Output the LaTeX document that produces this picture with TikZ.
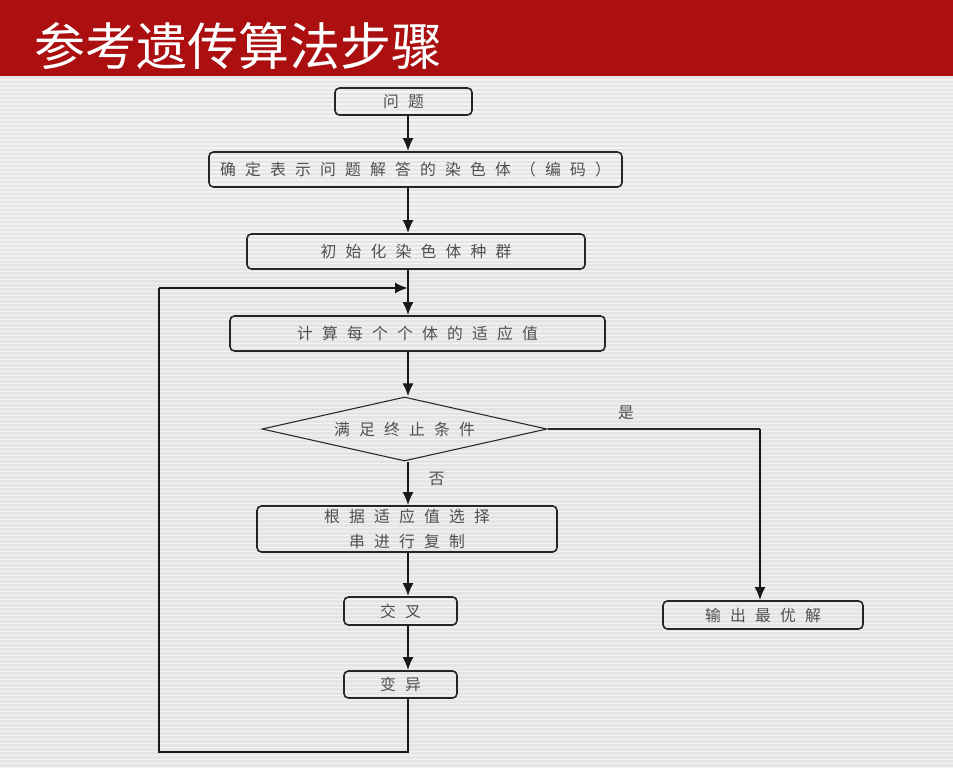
\documentclass[tikz,border=0pt]{standalone}
\usepackage{fontspec}
\setmainfont{Noto Sans CJK SC}
\newfontfamily\cjkbody[LetterSpace=58]{Noto Sans CJK SC}
\usetikzlibrary{shapes.geometric,arrows.meta}
\definecolor{titlered}{HTML}{AB0F10}
\definecolor{slidegray}{HTML}{E5E5E5}
\definecolor{inkgray}{HTML}{505050}
\begin{document}
\begin{tikzpicture}[x=1cm, y=-1cm, font={\cjkbody\fontsize{9}{14}\selectfont}, >={Latex[length=2.6mm,width=2.2mm]},
    stepbox/.style={draw=black!85, line width=0.9pt, rounded corners=2.5pt, text=inkgray, inner sep=0pt},
    testdia/.style={draw=black!85, line width=0.6pt, diamond, shape aspect=4.45, inner sep=0pt, text=inkgray},
    flowln/.style={black!90, line width=1.2pt},
    thinln/.style={black!85, line width=0.6pt}]
  \useasboundingbox (0,0) rectangle (19.06,15.36);
  % slide background
  \fill[slidegray] (0,1.52) rectangle (19.06,15.36);
  \foreach \y in {1.60,1.68,...,15.36} {\draw[white!55!slidegray, line width=0.6pt] (0,\y) -- (19.06,\y);}
  \fill[titlered] (0,0) rectangle (19.06,1.52);
  \node[anchor=west, inner sep=0pt, text=white, font={\fontsize{29}{30}\selectfont}] (title) at (0.68,0.93) {参考遗传算法步骤};
  % flow chart
  \coordinate (trunk) at (8.16,0);
  \node[stepbox, minimum width=2.74cm, minimum height=0.54cm] (wenti) at (8.07,2.03) {问题};
  \node[stepbox, minimum width=8.26cm, minimum height=0.70cm] (queding) at (8.31,3.39) {确定表示问题解答的染色体（编码）};
  \node[stepbox, minimum width=6.76cm, minimum height=0.70cm] (chushi) at (8.32,5.03) {初始化染色体种群};
  \node[stepbox, minimum width=7.50cm, minimum height=0.70cm] (jisuan) at (8.35,6.67) {计算每个个体的适应值};
  \node[testdia, minimum width=5.70cm, minimum height=1.28cm] (manzu) at (8.09,8.58) {满足终止条件};
  \node[stepbox, minimum width=6.00cm, minimum height=0.92cm, align=center] (genju) at (8.14,10.58) {根据适应值选择\\串进行复制};
  \node[stepbox, minimum width=2.26cm, minimum height=0.56cm] (jiaocha) at (8.01,12.22) {交叉};
  \node[stepbox, minimum width=2.26cm, minimum height=0.54cm] (bianyi) at (8.01,13.69) {变异};
  \node[stepbox, minimum width=4.00cm, minimum height=0.56cm] (shuchu) at (15.26,12.30) {输出最优解};
  \coordinate (loopbot) at (3.18,15.04);
  \coordinate (looptop) at (3.18,5.76);
  \coordinate (yesturn) at (15.20,8.58);
  \draw[flowln, ->] (wenti.south -| trunk) -- (queding.north -| trunk);
  \draw[flowln, ->] (queding.south -| trunk) -- (chushi.north -| trunk);
  \draw[flowln, ->] (chushi.south -| trunk) -- (jisuan.north -| trunk);
  \draw[flowln, ->] (jisuan.south -| trunk) -- (manzu.north -| trunk);
  \draw[flowln, ->] (manzu.south -| trunk) -- (genju.north -| trunk) node[pos=0.4, right=0.28cm, text=inkgray] (fou) {否};
  \draw[flowln, ->] (genju.south -| trunk) -- (jiaocha.north -| trunk);
  \draw[flowln, ->] (jiaocha.south -| trunk) -- (bianyi.north -| trunk);
  \draw[flowln] (bianyi.south -| trunk) |- (loopbot) -- (looptop);
  \draw[flowln, ->] (looptop) -- (looptop -| trunk);
  \draw[thinln] (manzu.east) -- (yesturn) node[pos=0.37, above=0.05cm, text=inkgray] (shi) {是};
  \draw[flowln, ->] (yesturn) -- (shuchu.north -| yesturn);
\end{tikzpicture}
\end{document}
